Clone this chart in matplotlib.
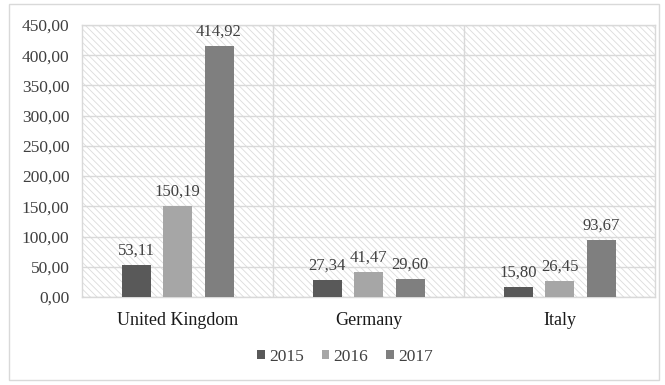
import matplotlib
matplotlib.use("Agg")
import matplotlib.pyplot as plt
import numpy as np
from matplotlib.patches import Rectangle

categories = ["United Kingdom", "Germany", "Italy"]
years = ["2015", "2016", "2017"]
values_2015 = [53.11, 27.34, 15.80]
values_2016 = [150.19, 41.47, 26.45]
values_2017 = [414.92, 29.60, 93.67]
series = [values_2015, values_2016, values_2017]
colors = ["#595959", "#a6a6a6", "#7f7f7f"]
yticks = [0, 50, 100, 150, 200, 250, 300, 350, 400, 450]

plt.rcParams['font.family'] = ['Liberation Serif', 'DejaVu Serif']
plt.rcParams['hatch.linewidth'] = 0.6
plt.rcParams['hatch.color'] = '#dcdcdc'

fig = plt.figure(figsize=(6.65, 3.85), dpi=100)
# outer border
fig.patches.append(Rectangle((9/665, 5/385), 650/665, 376/385, transform=fig.transFigure,
                             fill=False, edgecolor='#d9d9d9', linewidth=1.0))
ax = fig.add_axes([82/665, 1 - 297/385, (655-82)/665, (297-25)/385])

# hatched background
bg = Rectangle((0, 0), 1, 1, transform=ax.transAxes, facecolor='white',
               edgecolor='#dcdcdc', hatch='\\\\\\\\\\', linewidth=0, zorder=0)
ax.add_patch(bg)

x = np.arange(len(categories))
width = 29/191
step = 41.5/191
for i, (vals, c, yr) in enumerate(zip(series, colors, years)):
    pos = x + (i - 1) * step
    ax.bar(pos, vals, width=width, color=c, label=yr, zorder=3)
    for p, v in zip(pos, vals):
        ax.text(p, v + 11, f"{v:.2f}".replace('.', ','), ha='center', va='bottom',
                fontsize=12, color='#404040', zorder=4)

ax.set_xlim(-0.5, 2.5)
ax.set_ylim(0, 450)
ax.set_yticks(yticks)
ax.set_yticklabels([f"{t:.2f}".replace('.', ',') for t in yticks], fontsize=12.5, color='#404040')
ax.set_xticks(x)
ax.set_xticklabels(categories, fontsize=13, color='#1a1a1a')
ax.tick_params(axis='both', length=0)
ax.tick_params(axis='y', pad=9)
ax.tick_params(axis='x', pad=11)

for y in yticks:
    ax.axhline(y, color='#d9d9d9', linewidth=1.0, zorder=1)
for xv in [0.5, 1.5]:
    ax.axvline(xv, color='#d9d9d9', linewidth=1.0, zorder=1)
for s in ax.spines.values():
    s.set_color('#d9d9d9')
    s.set_linewidth(1.0)

leg = fig.legend(loc='center', bbox_to_anchor=(345/665, 1 - 357/385), ncol=3, frameon=False,
                 fontsize=12.5, handlelength=0.45, handleheight=0.45, handletextpad=0.25,
                 columnspacing=1.0)
for t in leg.get_texts():
    t.set_color('#404040')

fig.savefig("out.png", dpi=100)
